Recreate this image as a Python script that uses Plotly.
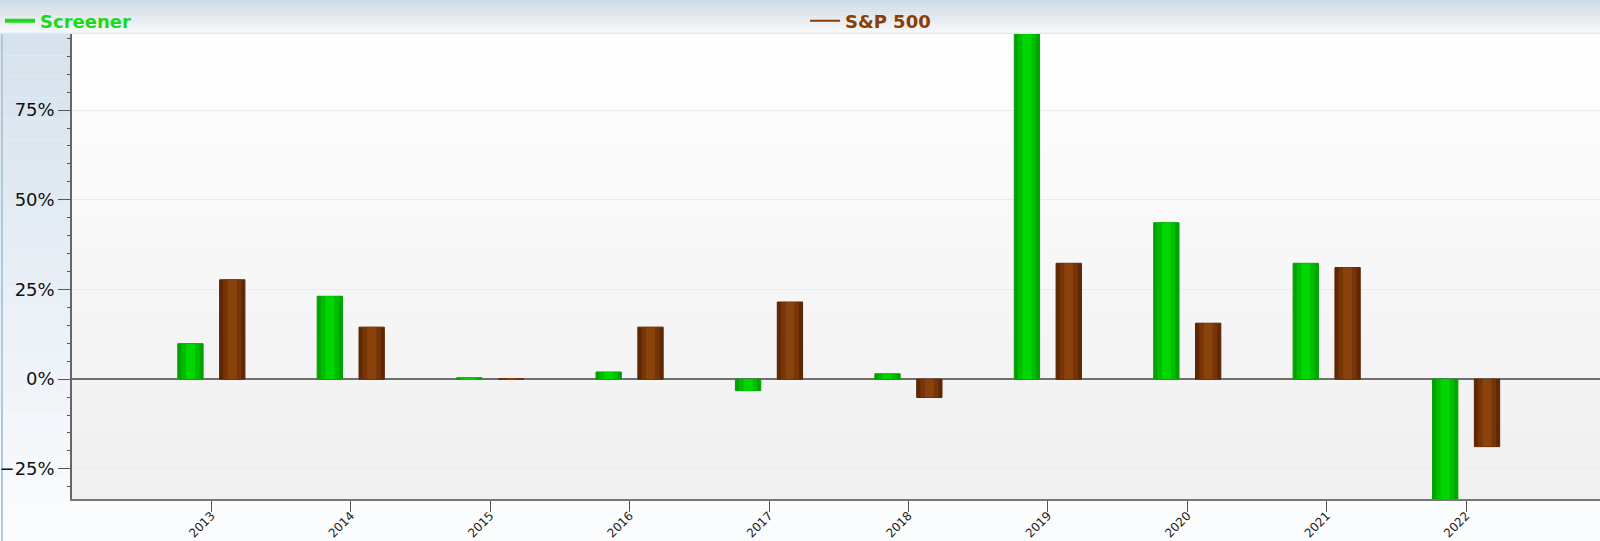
import plotly.graph_objects as go

years = ["2013", "2014", "2015", "2016", "2017", "2018", "2019", "2020", "2021", "2022"]
screener = [9.9, 23.1, 0.4, 2.0, -3.2, 1.5, 96.2, 43.6, 32.3, -33.4]
sp500 = [27.7, 14.5, 0.05, 14.5, 21.5, -5.1, 32.3, 15.6, 31.1, -18.8]

W, H = 1600, 541
L, R, T, B = 72, 0, 34, 42
PW, PH = W - L - R, H - T - B


def px2x(px):
    return (px - L) / PW


def py2y(py):
    return (H - B - py) / PH


def mix(c1, c2, t):
    a = [int(c1[i:i + 2], 16) for i in (1, 3, 5)]
    b = [int(c2[i:i + 2], 16) for i in (1, 3, 5)]
    return "#" + "".join(f"{round(a[k] + (b[k] - a[k]) * t):02x}" for k in range(3))


fig = go.Figure()

# bevel look: stacked layers of narrower, lighter bars
BAR_W = 0.1815
layers = [(1.0, "#00a400", "#00a000"), (0.72, "#00bc00", None), (0.36, "#00d600", None)]
brown_layers = [(1.0, "#5e2804", "#5a2400"), (0.72, "#763407", None), (0.36, "#8a420d", None)]

for f, col, line in layers:
    w = BAR_W * f
    fig.add_trace(go.Bar(
        x=years, y=screener, width=w, offset=-0.1505 - w / 2,
        marker=dict(color=col, line=dict(width=1 if line else 0, color=line or col)),
        showlegend=False, hoverinfo="skip" if f < 1 else None, name="Screener",
    ))
for f, col, line in brown_layers:
    w = BAR_W * f
    fig.add_trace(go.Bar(
        x=years, y=sp500, width=w, offset=0.1495 - w / 2,
        marker=dict(color=col, line=dict(width=1 if line else 0, color=line or col)),
        showlegend=False, hoverinfo="skip" if f < 1 else None, name="S&P 500",
    ))

# legend entries drawn as lines
fig.add_trace(go.Scatter(x=[None], y=[None], mode="lines", name="Screener",
                         line=dict(color="#1ed81e", width=4), legend="legend"))
fig.add_trace(go.Scatter(x=[None], y=[None], mode="lines", name="S&P 500",
                         line=dict(color="#8b3d05", width=2), legend="legend2"))

shapes = []
# top band gradient
n = 16
for i in range(n):
    y0, y1 = 33 * i / n, 33 * (i + 1) / n
    t = i / (n - 1)
    col = mix("#cfdbe5", "#f8f9fb", t ** 1.3)
    shapes.append(dict(type="rect", xref="paper", yref="paper", layer="below",
                       x0=px2x(0), x1=px2x(W), y0=py2y(y1), y1=py2y(y0),
                       fillcolor=col, line_width=0))
shapes.append(dict(type="line", xref="paper", yref="paper", layer="below",
                   x0=px2x(0), x1=px2x(W), y0=py2y(33.5), y1=py2y(33.5),
                   line=dict(color="#e0ebf1", width=2)))
# left band gradient
n = 24
for i in range(n):
    y0, y1 = 34 + (H - 34) * i / n, 34 + (H - 34) * (i + 1) / n
    t = i / (n - 1)
    col = mix("#d6e2ed", "#fbfcfe", t)
    shapes.append(dict(type="rect", xref="paper", yref="paper", layer="below",
                       x0=px2x(0), x1=px2x(L), y0=py2y(y1), y1=py2y(y0),
                       fillcolor=col, line_width=0))
shapes.append(dict(type="line", xref="paper", yref="paper", layer="below",
                   x0=px2x(2), x1=px2x(2), y0=py2y(34), y1=py2y(H),
                   line=dict(color="#b0c8da", width=2)))
# plot area gradient (white to light grey)
n = 20
for i in range(n):
    t = i / (n - 1)
    col = mix("#fefefe", "#f0f0f0", t)
    shapes.append(dict(type="rect", xref="paper", yref="paper", layer="below",
                       x0=0, x1=1, y0=1 - (i + 1) / n, y1=1 - i / n,
                       fillcolor=col, line_width=0))

fig.update_layout(
    width=W, height=H,
    margin=dict(l=L, r=R, t=T, b=B, autoexpand=False),
    barmode="overlay",
    paper_bgcolor="#fbfcfd",
    plot_bgcolor="#f7f7f7",
    font=dict(family="DejaVu Sans", color="#111"),
    shapes=shapes,
    legend=dict(xref="container", yref="container", x=0.0, y=1 - 21 / H,
                xanchor="left", yanchor="middle",
                bgcolor="rgba(0,0,0,0)", borderwidth=0,
                font=dict(size=18, color="#1ed81e", weight="bold")),
    legend2=dict(xref="container", yref="container", x=805 / W, y=1 - 21 / H,
                 xanchor="left", yanchor="middle",
                 bgcolor="rgba(0,0,0,0)", borderwidth=0,
                 font=dict(size=18, color="#8b3d05", weight="bold")),
)

fig.update_xaxes(
    type="category", range=[-1.0, 9.96], automargin=False,
    showline=True, linecolor="#777", linewidth=2,
    ticks="outside", ticklen=11, tickcolor="#555",
    tickangle=-45, tickfont=dict(size=12, color="#222"),
    ticklabelstandoff=-8,
    showgrid=False, zeroline=False,
)
fig.update_yaxes(
    range=[-33.4, 96.2], dtick=25, ticksuffix="%", automargin=False,
    showline=True, linecolor="#666", linewidth=1.5,
    ticks="outside", ticklen=12, tickcolor="#555",
    tickfont=dict(size=18, color="#111"),
    minor=dict(dtick=5, ticks="outside", ticklen=3, tickcolor="#555", showgrid=False),
    showgrid=True, gridcolor="#ebebeb", gridwidth=1,
    zeroline=True, zerolinecolor="#707070", zerolinewidth=1.5,
)

fig.write_html(
    "out.html",
    config={"displayModeBar": False},
    post_script="document.body.style.margin='0';document.body.style.overflow='hidden';",
)
